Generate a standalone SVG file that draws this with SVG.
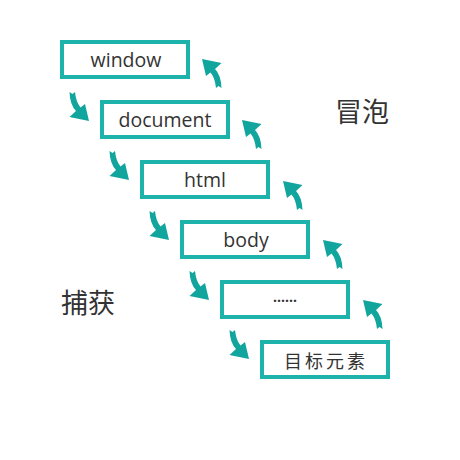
<svg xmlns="http://www.w3.org/2000/svg" width="460" height="460" viewBox="0 0 460 460">
<style>
.box{fill:#fff;stroke:#1db3ab;stroke-width:4}
.lbl{font-family:"Open Sans","Liberation Sans",sans-serif;font-size:19.5px;fill:#333;text-anchor:middle}
.cjk{font-family:"Noto Sans CJK SC",sans-serif;fill:#333}
.arr{fill:#12a59e}
</style>
<defs>
<path id="a" class="arr" d="M-19.5,-29 Q-19,-16 -13,-10 L-19.5,-4 L0,0 L-4,-17 L-8.5,-13.5 Q-13,-19 -14,-29 L-16.5,-27 Z"/>
</defs>
<rect width="460" height="460" fill="#fff"/>
<g id="window"><rect class="box" x="62" y="42" width="126" height="35"/><text class="lbl" x="126" y="67">window</text></g>
<g id="document"><rect class="box" x="102" y="102" width="126" height="35"/><text class="lbl" x="165" y="127">document</text></g>
<g id="html"><rect class="box" x="142" y="162" width="126" height="35"/><text class="lbl" x="205" y="187">html</text></g>
<g id="body"><rect class="box" x="182" y="222" width="126" height="35"/><text class="lbl" x="246" y="247">body</text></g>
<g id="dots"><rect class="box" x="222" y="282" width="126" height="35"/><text class="lbl" x="285" y="302" style="font-size:14px;font-weight:bold">......</text></g>
<g id="target"><rect class="box" x="262" y="342" width="126" height="35"/><text class="cjk" x="326" y="368" text-anchor="middle" font-size="18" letter-spacing="3">目标元素</text></g>
<g id="labels">
<text class="cjk" x="335" y="122" font-size="27">冒泡</text>
<text class="cjk" x="61" y="313" font-size="27">捕获</text>
</g>
<g id="connectors">
<use href="#a" transform="translate(89,121)"/>
<use href="#a" transform="translate(129,180)"/>
<use href="#a" transform="translate(169,240)"/>
<use href="#a" transform="translate(209,300)"/>
<use href="#a" transform="translate(249,359)"/>
<use href="#a" transform="translate(202,59) rotate(180)"/>
<use href="#a" transform="translate(242,120) rotate(180)"/>
<use href="#a" transform="translate(283,181) rotate(180)"/>
<use href="#a" transform="translate(323,240) rotate(180)"/>
<use href="#a" transform="translate(363,300) rotate(180)"/>
</g>
</svg>
